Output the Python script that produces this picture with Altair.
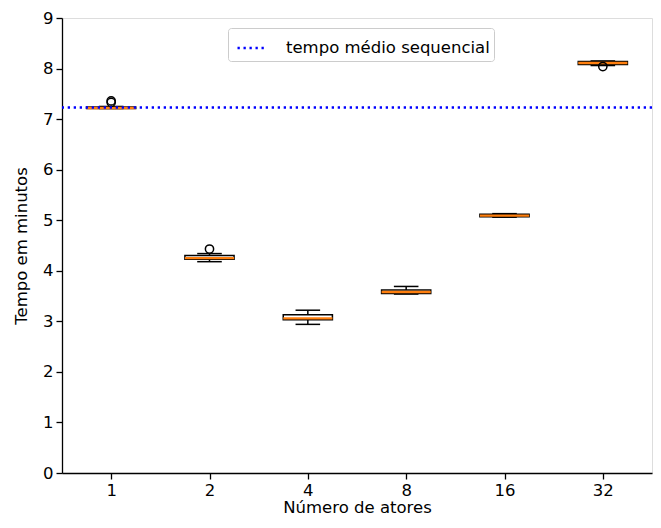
import altair as alt
import pandas as pd

categories = ["1", "2", "4", "8", "16", "32"]
whis_lo = [7.21, 4.18, 2.94, 3.54, 5.06, 8.06]
q1 = [7.21, 4.23, 3.03, 3.55, 5.07, 8.08]
median = [7.22, 4.25, 3.06, 3.58, 5.09, 8.11]
q3 = [7.24, 4.30, 3.13, 3.62, 5.12, 8.14]
whis_hi = [7.25, 4.34, 3.22, 3.69, 5.13, 8.15]
outlier_cat = ["1", "1", "2", "32"]
outlier_val = [7.33, 7.36, 4.43, 8.04]
seq_mean = [7.23]
seq_label = ["tempo médio sequencial"]

FONT = "DejaVu Sans"
FS = 16.5

boxes = pd.DataFrame({"cat": categories, "lo": whis_lo, "q1": q1, "med": median,
                      "q3": q3, "hi": whis_hi})
boxes["pos"] = range(1, len(categories) + 1)
outs = pd.DataFrame({"cat": outlier_cat, "val": outlier_val})
outs["pos"] = outs["cat"].map({c: i + 1 for i, c in enumerate(categories)})
seq = pd.DataFrame({"val": seq_mean, "label": seq_label})

label_expr = "[" + ",".join("'%s'" % c for c in categories) + "][datum.value-1]"

xscale = alt.Scale(domain=[0.5, len(categories) + 0.5], nice=False, zero=False)
yscale = alt.Scale(domain=[0, 9], nice=False)
common_axis = dict(grid=False, tickSize=6, labelPadding=3, labelFontSize=FS,
                   titleFontSize=FS, labelFont=FONT, titleFont=FONT,
                   domainColor="black", tickColor="black", labelColor="black",
                   titleColor="black", titleFontWeight="normal", domainWidth=1.3,
                   tickWidth=1.3)
xaxis = alt.Axis(values=list(range(1, len(categories) + 1)), labelExpr=label_expr,
                 title="Número de atores", titlePadding=1, labelAngle=0, **common_axis)
yaxis = alt.Axis(values=list(range(0, 10)), title="Tempo em minutos",
                 titlePadding=13, **common_axis)

base = alt.Chart(boxes).transform_calculate(
    left="datum.pos - 0.25", right="datum.pos + 0.25",
    cl="datum.pos - 0.125", cr="datum.pos + 0.125")

LW = 1.5
box = base.mark_rect(fill=None, stroke="black", strokeWidth=LW).encode(
    x=alt.X("left:Q", scale=xscale, axis=xaxis), x2="right:Q",
    y=alt.Y("q1:Q", scale=yscale, axis=yaxis), y2="q3:Q")
wl = base.mark_rule(color="black", strokeWidth=LW).encode(
    x="pos:Q", y="lo:Q", y2="q1:Q")
wh = base.mark_rule(color="black", strokeWidth=LW).encode(
    x="pos:Q", y="q3:Q", y2="hi:Q")
cap_lo = base.mark_rule(color="black", strokeWidth=LW).encode(
    x="cl:Q", x2="cr:Q", y="lo:Q")
cap_hi = base.mark_rule(color="black", strokeWidth=LW).encode(
    x="cl:Q", x2="cr:Q", y="hi:Q")
med = base.mark_rule(color="#ff7f0e", strokeWidth=2.3).encode(
    x="left:Q", x2="right:Q", y="med:Q")
out = alt.Chart(outs).mark_point(shape="circle", filled=False, color="black",
                                 size=68, strokeWidth=1.5, opacity=1).encode(
    x="pos:Q", y="val:Q")

leg = alt.Legend(orient="none", legendX=166, legendY=10,
                 symbolType="stroke", symbolSize=841, symbolStrokeWidth=2.3,
                 symbolOffset=4, labelFontSize=FS, labelFont=FONT,
                 labelColor="black", labelLimit=400, strokeColor="#cccccc",
                 fillColor="white", cornerRadius=3, padding=4, labelOffset=18)
hline = alt.Chart(seq).mark_rule(strokeWidth=2.3).encode(
    y="val:Q",
    color=alt.Color("label:N", scale=alt.Scale(range=["blue"]), title=None, legend=leg),
    strokeDash=alt.StrokeDash("label:N", scale=alt.Scale(range=[[2.3, 3.7]]),
                              title=None, legend=leg))

chart = alt.layer(box, wl, wh, cap_lo, cap_hi, med, out, hline).properties(
    width=590, height=455,
    autosize=alt.AutoSizeParams(type="none"),
    padding={"left": 54, "top": 10, "right": 1, "bottom": 47},
).configure_view(stroke="black", strokeWidth=1.3).configure(background="white")

chart.save("out.html", embed_options={"renderer": "svg", "actions": False})
